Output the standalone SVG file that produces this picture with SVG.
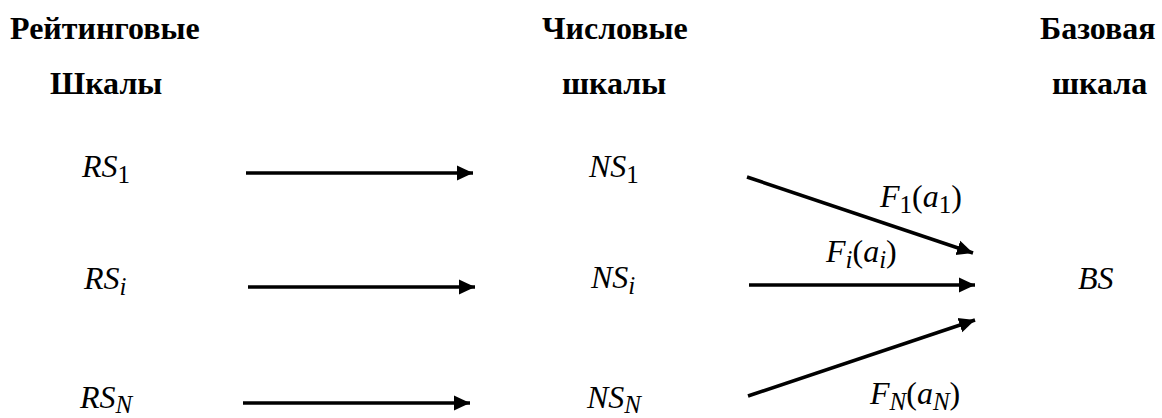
<svg xmlns="http://www.w3.org/2000/svg" width="1162" height="418" viewBox="0 0 1162 418">
<style>
.h{font-family:"Liberation Serif","Times New Roman",serif;font-weight:bold;font-size:32px;fill:#000}
.m{font-family:"Liberation Serif","Times New Roman",serif;font-style:italic;font-size:32px;fill:#000}
.s{font-size:25px}
.u{font-style:normal}
.c{stroke:#000;stroke-width:3.5;fill:none}
</style>
<defs>
<marker id="ah" markerUnits="userSpaceOnUse" markerWidth="17" markerHeight="16" refX="16" refY="7.5" orient="auto" viewBox="0 0 17 15">
<path d="M0,0 L16,7.5 L0,15 Z" fill="#000"/>
</marker>
</defs>
<rect width="1162" height="418" fill="#fff"/>
<g id="h-rs"><text class="h" x="10" y="39">Рейтинговые</text><text class="h" x="50" y="94">Шкалы</text></g>
<g id="h-ns"><text class="h" x="542" y="39">Числовые</text><text class="h" x="562" y="94">шкалы</text></g>
<g id="h-bs"><text class="h" x="1040" y="39">Базовая</text><text class="h" x="1052" y="94">шкала</text></g>
<g id="rs1"><text class="m" x="82" y="177">RS<tspan class="s u" dy="6">1</tspan></text></g>
<g id="rsi"><text class="m" x="84" y="289">RS<tspan class="s" dy="6">i</tspan></text></g>
<g id="rsn"><text class="m" x="80" y="408">RS<tspan class="s" dy="5">N</tspan></text></g>
<g id="ns1"><text class="m" x="589" y="177">NS<tspan class="s u" dy="6">1</tspan></text></g>
<g id="nsi"><text class="m" x="591" y="288">NS<tspan class="s" dy="6">i</tspan></text></g>
<g id="nsn"><text class="m" x="587" y="408">NS<tspan class="s" dy="5">N</tspan></text></g>
<g id="bs"><text class="m" x="1078" y="289">BS</text></g>
<g id="connectors">
<line class="c" x1="246" y1="173" x2="473" y2="173" marker-end="url(#ah)"/>
<line class="c" x1="248" y1="287" x2="475" y2="287" marker-end="url(#ah)"/>
<line class="c" x1="243" y1="403" x2="470" y2="403" marker-end="url(#ah)"/>
<line class="c" x1="747" y1="177" x2="973" y2="253" marker-end="url(#ah)"/>
<line class="c" x1="749" y1="285" x2="975" y2="285" marker-end="url(#ah)"/>
<line class="c" x1="748" y1="396" x2="975" y2="320" marker-end="url(#ah)"/>
</g>
<g id="labels">
<text class="m" x="880" y="207">F<tspan class="s u" dy="6">1</tspan><tspan class="u" dy="-6">(</tspan>a<tspan class="s u" dy="6">1</tspan><tspan class="u" dy="-6">)</tspan></text>
<text class="m" x="826" y="262">F<tspan class="s" dy="6">i</tspan><tspan class="u" dy="-6">(</tspan>a<tspan class="s" dy="6">i</tspan><tspan class="u" dy="-6">)</tspan></text>
<text class="m" x="870" y="404">F<tspan class="s" dy="6">N</tspan><tspan class="u" dy="-6">(</tspan>a<tspan class="s" dy="6">N</tspan><tspan class="u" dy="-6">)</tspan></text>
</g>
</svg>
